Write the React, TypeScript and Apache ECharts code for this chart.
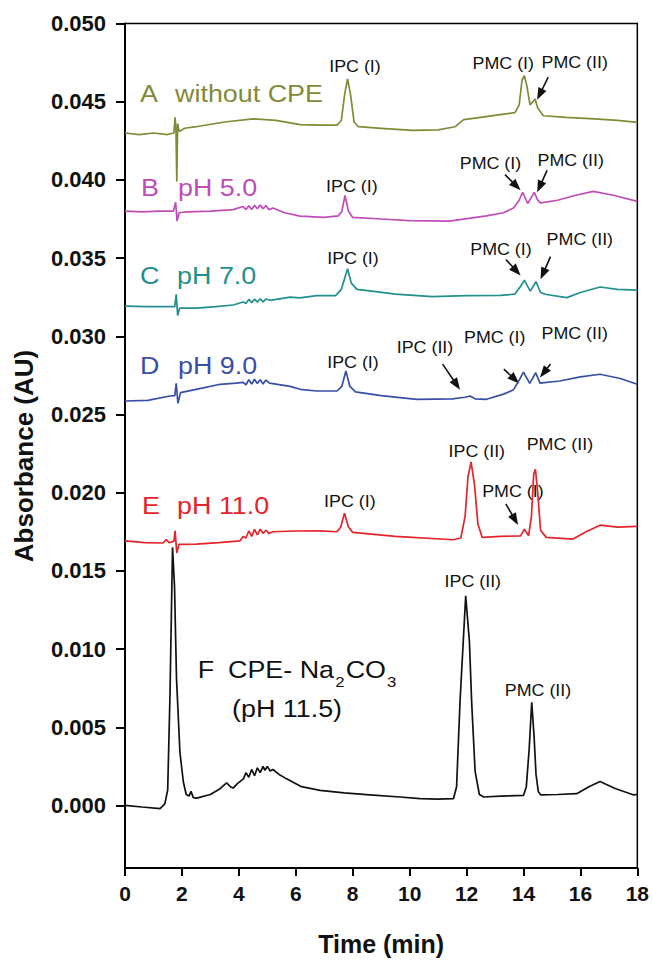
import React, { useEffect, useRef } from "react";
import * as echarts from "echarts";

// ---------- data (time in min, absorbance in AU) ----------
const xTickValues = [0, 2, 4, 6, 8, 10, 12, 14, 16, 18];
const yTickValues = [0, 0.005, 0.01, 0.015, 0.02, 0.025, 0.03, 0.035, 0.04, 0.045, 0.05];

const traceA: [number, number][] = [
  [0, 0.0430], [0.5, 0.0429], [1.0, 0.0430], [1.5, 0.0429], [1.72, 0.0430], [1.76, 0.0440], [1.79, 0.0433],
  [1.82, 0.0399], [1.85, 0.0436], [1.9, 0.0431], [2.1, 0.0433], [2.5, 0.0434], [3.5, 0.0437], [4.5, 0.0439],
  [5.3, 0.0438], [6.15, 0.04353], [6.9, 0.0435], [7.45, 0.0435], [7.6, 0.0438], [7.72, 0.0455], [7.82, 0.04645],
  [7.92, 0.0455], [8.05, 0.0437], [8.2, 0.0434], [9.0, 0.0433], [10.1, 0.04317], [11.0, 0.0432], [11.6, 0.0434],
  [11.9, 0.04385], [12.5, 0.0440], [13.3, 0.0442], [13.7, 0.0443], [13.85, 0.0448], [13.95, 0.0464], [14.03, 0.04666],
  [14.12, 0.0460], [14.23, 0.0448], [14.33, 0.0450], [14.41, 0.04517], [14.5, 0.0446], [14.7, 0.0441], [15.5, 0.0440],
  [16.5, 0.0439], [17.3, 0.0438], [18, 0.04368],
];

const traceB: [number, number][] = [
  [0, 0.0380], [0.6, 0.03795], [1.2, 0.0380], [1.7, 0.0380], [1.78, 0.03857], [1.83, 0.03736], [1.9, 0.0379],
  [2.2, 0.03795], [3.0, 0.0380], [3.8, 0.0381], [4.15, 0.0383], [4.25, 0.0381], [4.35, 0.03835], [4.45, 0.0381],
  [4.55, 0.03838], [4.65, 0.03815], [4.75, 0.0384], [4.85, 0.03815], [4.95, 0.03836], [5.05, 0.0381], [5.2, 0.0382],
  [5.6, 0.0379], [6.15, 0.03768], [7.0, 0.0376], [7.5, 0.0377], [7.62, 0.0380], [7.73, 0.0390], [7.85, 0.0380],
  [8.0, 0.0376], [9.0, 0.0375], [10.0, 0.0374], [11.4, 0.03736], [12.7, 0.0377], [13.3, 0.0379], [13.65, 0.0382],
  [13.85, 0.0387], [13.97, 0.03921], [14.15, 0.03849], [14.25, 0.0388], [14.38, 0.0392], [14.5, 0.0387],
  [14.6, 0.03853], [15.2, 0.0387], [15.8, 0.0390], [16.45, 0.03927], [17.2, 0.0390], [18, 0.03863],
];

const traceC: [number, number][] = [
  [0, 0.03193], [0.8, 0.0319], [1.5, 0.0319], [1.75, 0.0319], [1.8, 0.03268], [1.85, 0.03133], [1.92, 0.0318],
  [2.5, 0.0318], [3.2, 0.0319], [3.8, 0.0320], [4.15, 0.03219], [4.25, 0.0321], [4.35, 0.03236], [4.45, 0.03215],
  [4.55, 0.03238], [4.65, 0.03218], [4.75, 0.0324], [4.85, 0.0322], [4.95, 0.03238], [5.1, 0.0323], [5.8, 0.0325],
  [6.15, 0.03246], [6.73, 0.0326], [7.4, 0.0326], [7.6, 0.0330], [7.82, 0.03432], [7.95, 0.0334], [8.15, 0.0330],
  [8.6, 0.0329], [9.5, 0.0327], [10.8, 0.03253], [12.0, 0.0326], [13.2, 0.03261], [13.7, 0.0327], [13.9, 0.0332],
  [14.03, 0.03359], [14.24, 0.03289], [14.44, 0.03349], [14.6, 0.0328], [14.8, 0.03267], [15.52, 0.03247],
  [16.0, 0.0328], [16.69, 0.03315], [17.3, 0.0330], [18, 0.03295],
];

const traceD: [number, number][] = [
  [0, 0.02586], [0.8, 0.0259], [1.58, 0.02618], [1.75, 0.0262], [1.8, 0.02699], [1.86, 0.02571], [1.95, 0.0264],
  [2.5, 0.0266], [3.34, 0.02693], [3.9, 0.0270], [4.15, 0.02705], [4.25, 0.0269], [4.35, 0.02722], [4.45, 0.02695],
  [4.55, 0.02725], [4.65, 0.02698], [4.75, 0.02722], [4.85, 0.02695], [4.95, 0.0272], [5.08, 0.0270], [5.8, 0.0268],
  [6.15, 0.02661], [6.73, 0.0265], [7.45, 0.0265], [7.62, 0.0268], [7.76, 0.02778], [7.9, 0.0268], [8.1, 0.02644],
  [9.0, 0.0262], [10.25, 0.02597], [11.5, 0.0260], [11.95, 0.0261], [12.12, 0.02618], [12.3, 0.0260], [12.7, 0.02597],
  [13.3, 0.0263], [13.64, 0.02656], [13.85, 0.0272], [14.0, 0.02771], [14.22, 0.02699], [14.43, 0.02767],
  [14.58, 0.0270], [15.27, 0.02714], [16.0, 0.0274], [16.69, 0.02757], [17.4, 0.0273], [18, 0.02693],
];

const traceE: [number, number][] = [
  [0, 0.01692], [0.7, 0.0168], [1.34, 0.01678], [1.45, 0.0170], [1.55, 0.0168], [1.72, 0.0169], [1.76, 0.01756],
  [1.82, 0.01614], [1.9, 0.0167], [2.5, 0.01671], [3.3, 0.0168], [4.04, 0.01692], [4.15, 0.0172], [4.25, 0.0171],
  [4.35, 0.01755], [4.45, 0.0172], [4.55, 0.01765], [4.65, 0.0173], [4.75, 0.01767], [4.85, 0.0174], [4.95, 0.0176],
  [5.05, 0.0174], [5.2, 0.0175], [6.0, 0.01755], [6.85, 0.01756], [7.45, 0.0175], [7.58, 0.0178], [7.71, 0.01869],
  [7.85, 0.0178], [8.0, 0.01746], [9.5, 0.0172], [11.53, 0.01699], [11.8, 0.0171], [11.95, 0.0185], [12.05, 0.0210],
  [12.16, 0.02197], [12.28, 0.0205], [12.4, 0.0180], [12.55, 0.01714], [13.2, 0.0172], [13.9, 0.01724],
  [14.03, 0.01767], [14.18, 0.01724], [14.28, 0.0185], [14.36, 0.0212], [14.42, 0.0215], [14.5, 0.0200],
  [14.6, 0.0176], [14.8, 0.01714], [15.74, 0.01703], [16.2, 0.0175], [16.69, 0.01792], [17.3, 0.0178], [18, 0.01784],
];

const traceF: [number, number][] = [
  [0, 0.0], [0.6, -0.0001], [1.23, -0.0002], [1.4, 0.0001], [1.5, 0.0010], [1.58, 0.0070], [1.67, 0.0165],
  [1.74, 0.0140], [1.81, 0.0081], [1.93, 0.0034], [2.05, 0.0015], [2.15, 0.0007], [2.25, 0.0006], [2.32, 0.0009],
  [2.4, 0.0005], [2.52, 0.00047], [3.0, 0.0007], [3.34, 0.00107], [3.57, 0.00145], [3.7, 0.0012], [3.8, 0.00111],
  [3.95, 0.0014], [4.16, 0.0017], [4.25, 0.0021], [4.35, 0.0018], [4.45, 0.0023], [4.55, 0.0019], [4.65, 0.0024],
  [4.75, 0.0021], [4.85, 0.0025], [4.92, 0.00225], [5.0, 0.0025], [5.1, 0.0022], [5.2, 0.0023], [5.4, 0.0020],
  [5.68, 0.0017], [6.2, 0.0012], [6.85, 0.00096], [7.7, 0.0008], [8.6, 0.00068], [9.66, 0.00054], [10.37, 0.00043],
  [11.0, 0.0004], [11.54, 0.00043], [11.65, 0.0012], [11.77, 0.0066], [11.97, 0.01341], [12.1, 0.0105],
  [12.18, 0.0066], [12.3, 0.0022], [12.45, 0.0007], [12.6, 0.00054], [13.2, 0.0006], [14.0, 0.00064], [14.1, 0.0012],
  [14.2, 0.0036], [14.29, 0.0066], [14.37, 0.0045], [14.44, 0.0020], [14.52, 0.0009], [14.6, 0.00068], [15.2, 0.0007],
  [15.87, 0.00075], [16.3, 0.0012], [16.69, 0.00153], [17.2, 0.0011], [17.85, 0.00068], [18, 0.0007],
];

const seriesKeys = ["A", "B", "C", "D", "E", "F"];
const seriesConditions = ["without CPE", "pH 5.0", "pH 7.0", "pH 9.0", "pH 11.0", "CPE- Na2CO3 (pH 11.5)"];
const seriesData = [traceA, traceB, traceC, traceD, traceE, traceF];
const seriesColors = ["#828a38", "#c04cb8", "#21908c", "#3a4ea8", "#e3242b", "#111111"];

// peak annotations: [text, t, v] (anchor = text centre, data units)
const peakLabels: [string, number, number][] = [
  ["IPC (I)", 8.08, 0.04729], ["PMC (I)", 13.29, 0.04748], ["PMC (II)", 15.8, 0.04754],
  ["IPC (I)", 7.97, 0.03957], ["PMC (I)", 12.84, 0.0411], ["PMC (II)", 15.66, 0.04129],
  ["IPC (I)", 8.01, 0.03502], ["PMC (I)", 13.21, 0.03555], ["PMC (II)", 15.98, 0.03619],
  ["IPC (I)", 8.01, 0.02836], ["IPC (II)", 10.54, 0.02932], ["PMC (I)", 12.99, 0.02997], ["PMC (II)", 15.8, 0.03019],
  ["IPC (I)", 7.9, 0.01948], ["IPC (II)", 12.36, 0.02267], ["PMC (I)", 13.63, 0.02008], ["PMC (II)", 15.28, 0.02311],
  ["IPC (II)", 12.22, 0.01434], ["PMC (II)", 14.51, 0.00739],
];

// arrows: [t1, v1, t2, v2] (from tail to head)
const arrows: [number, number, number, number][] = [
  [14.87, 0.04657, 14.48, 0.04512],
  [13.35, 0.04034, 13.9, 0.03933], [14.83, 0.04061, 14.48, 0.03921],
  [13.38, 0.03491, 13.9, 0.03389], [14.95, 0.03509, 14.6, 0.03364],
  [11.16, 0.02822, 11.77, 0.02658], [13.31, 0.0279, 13.85, 0.02698], [14.95, 0.02822, 14.58, 0.02737],
  [13.38, 0.01928, 13.81, 0.01794],
];

// series label anchors: [letter t, condition t, v]
const seriesLabelPos: [number, number, number][] = [
  [0.53, 1.76, 0.0455],
  [0.56, 1.86, 0.0395],
  [0.53, 1.83, 0.0339],
  [0.53, 1.86, 0.0281],
  [0.6, 1.83, 0.0192],
  [2.56, 3.62, 0.0087],
];

const FONT = '"Liberation Sans", Arial, Helvetica, sans-serif';

export default function App() {
  const ref = useRef<HTMLDivElement>(null);
  useEffect(() => {
    const chart = echarts.init(ref.current!, null, { renderer: "svg" });
    chart.setOption({
      animation: false,
      backgroundColor: "#ffffff",
      grid: { left: 125, right: 14.5, top: 23.5, bottom: 91, show: true, borderColor: "#000", borderWidth: 1.5, containLabel: false },
      xAxis: {
        type: "value", min: 0, max: 18, interval: 2,
        name: "Time (min)", nameLocation: "middle", nameGap: 63,
        nameTextStyle: { fontFamily: FONT, fontWeight: "bold", fontSize: 25, color: "#111" },
        axisLine: { show: true, onZero: false, lineStyle: { color: "#000", width: 2 } },
        axisTick: { show: true, inside: false, length: 8, lineStyle: { color: "#000", width: 2 } },
        axisLabel: { fontFamily: FONT, fontWeight: "bold", fontSize: 21, color: "#111", margin: 15,
          customValues: xTickValues, formatter: (v: number) => String(v) },
        splitLine: { show: false },
      },
      yAxis: {
        type: "value", min: -0.004, max: 0.05,
        axisLine: { show: true, onZero: false, lineStyle: { color: "#000", width: 2 } },
        axisTick: { show: true, inside: false, length: 9, lineStyle: { color: "#000", width: 2 }, customValues: yTickValues },
        axisLabel: { fontFamily: FONT, fontWeight: "bold", fontSize: 22, color: "#111", margin: 19,
          customValues: yTickValues, formatter: (v: number) => v.toFixed(3) },
        splitLine: { show: false },
      },
      series: seriesData.map((d, i) => ({
        type: "line", name: seriesKeys[i], data: d, showSymbol: false, symbol: "none",
        lineStyle: { color: seriesColors[i], width: 1.7 }, silent: true,
      })),
    });

    const px = (t: number, v: number) => chart.convertToPixel({ gridIndex: 0 }, [t, v]) as number[];
    const els: any[] = [];

    // y-axis title
    els.push({
      type: "text", x: 24, y: 456, rotation: Math.PI / 2,
      style: { x: 0, y: 0, text: "Absorbance (AU)", fill: "#111", font: `bold 26px ${FONT}`, textAlign: "center", textVerticalAlign: "middle" },
    });

    // series labels
    const ctx = document.createElement("canvas").getContext("2d")!;
    seriesLabelPos.forEach((p, i) => {
      const color = seriesColors[i];
      const [lx, ly] = px(p[0], p[2]);
      const [cx] = px(p[1], p[2]);
      els.push({ type: "text", x: lx, y: ly, scaleX: 1.12,
        style: { x: 0, y: 0, text: seriesKeys[i], fill: color, font: `24px ${FONT}`, textAlign: "left", textVerticalAlign: "middle" } });
      if (i < 5) {
        els.push({ type: "text", x: cx, y: ly, scaleX: 1.12,
          style: { x: 0, y: 0, text: seriesConditions[i], fill: color, font: `24px ${FONT}`, textAlign: "left", textVerticalAlign: "middle" } });
      } else {
        const big = `24px ${FONT}`;
        const small = `15px ${FONT}`;
        ctx.font = big; const w1 = ctx.measureText("CPE- Na").width; const w3 = ctx.measureText("CO").width;
        ctx.font = small; const w2 = ctx.measureText("2").width;
        els.push({ type: "group", x: cx, y: ly, scaleX: 1.12, children: [
          { type: "text", style: { x: 0, y: 0, text: "CPE- Na", fill: color, font: big, textAlign: "left", textVerticalAlign: "middle" } },
          { type: "text", style: { x: w1 + 1, y: 12, text: "2", fill: color, font: small, textAlign: "left", textVerticalAlign: "middle" } },
          { type: "text", style: { x: w1 + w2 + 2, y: 0, text: "CO", fill: color, font: big, textAlign: "left", textVerticalAlign: "middle" } },
          { type: "text", style: { x: w1 + w2 + w3 + 3, y: 12, text: "3", fill: color, font: small, textAlign: "left", textVerticalAlign: "middle" } },
        ] });
        const [, ly2] = px(p[1], 0.0062);
        els.push({ type: "text", x: cx + 4, y: ly2, scaleX: 1.12,
          style: { x: 0, y: 0, text: "(pH 11.5)", fill: color, font: big, textAlign: "left", textVerticalAlign: "middle" } });
      }
    });

    // peak labels
    peakLabels.forEach(([txt, t, v]) => {
      const [x, y] = px(t, v);
      els.push({ type: "text", x, y, scaleX: 1.05,
        style: { x: 0, y: 0, text: txt, fill: "#111", font: `17px ${FONT}`, textAlign: "center", textVerticalAlign: "middle" } });
    });

    // arrows
    arrows.forEach(([t1, v1, t2, v2]) => {
      const [x1, y1] = px(t1, v1);
      const [x2, y2] = px(t2, v2);
      const dx = x2 - x1, dy = y2 - y1;
      const L = Math.hypot(dx, dy) || 1;
      const ux = dx / L, uy = dy / L;
      const nx = -uy, ny = ux;
      const hl = 12, hw = 4.5;
      els.push({ type: "line", shape: { x1, y1, x2: x2 - ux * hl * 0.7, y2: y2 - uy * hl * 0.7 }, style: { stroke: "#111", lineWidth: 1.6 } });
      els.push({ type: "polygon", shape: { points: [[x2, y2], [x2 - ux * hl + nx * hw, y2 - uy * hl + ny * hw], [x2 - ux * hl - nx * hw, y2 - uy * hl - ny * hw]] },
        style: { fill: "#111" } });
    });

    chart.setOption({ graphic: els });
    return () => chart.dispose();
  }, []);
  return <div ref={ref} style={{ position: "absolute", left: 0, top: 0, width: 652, height: 961 }} />;
}
